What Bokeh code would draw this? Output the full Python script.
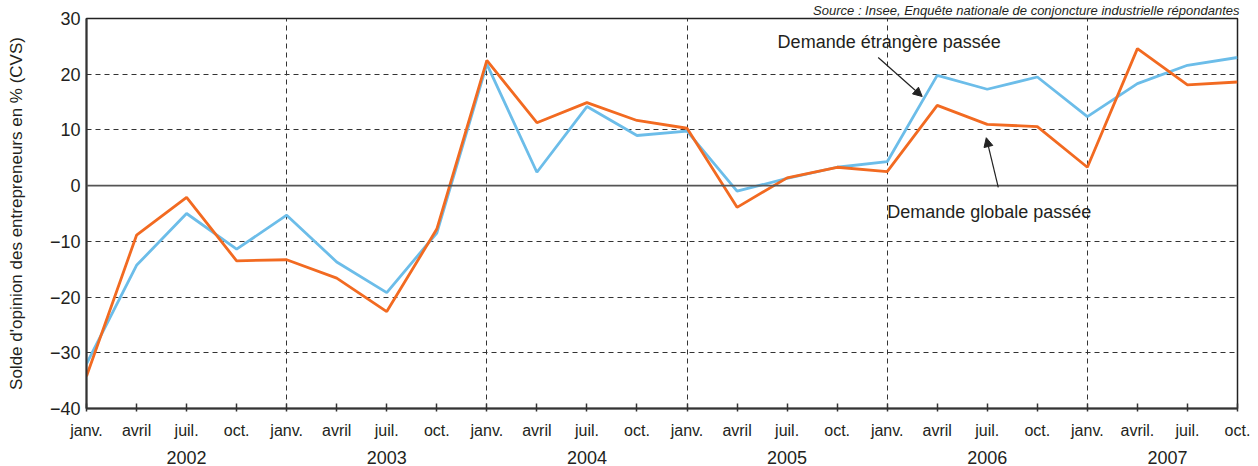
from bokeh.plotting import figure
from bokeh.models import (Range1d, FixedTicker, LinearAxis, Span, Label, Arrow,
                          NormalHead, ColumnDataSource, Grid, Title)
from bokeh.embed import file_html
from bokeh.resources import INLINE

# ---------------- data ----------------
quarter_labels = ["janv.", "avril", "juil.", "oct."] * 5 + ["janv.", "avril.", "juil.", "oct."]
years = ["2002", "2003", "2004", "2005", "2006", "2007"]
quarter_index = list(range(len(quarter_labels)))

demande_etrangere = [-32.0, -14.3, -5.0, -11.4, -5.3, -13.7, -19.2, -8.5,
                     21.8, 2.4, 14.2, 9.0, 9.8, -1.0, 1.3, 3.3,
                     4.3, 19.8, 17.3, 19.5, 12.4, 18.3, 21.6, 23.0]
demande_globale = [-34.2, -8.9, -2.1, -13.5, -13.3, -16.6, -22.6, -7.8,
                   22.5, 11.3, 14.9, 11.7, 10.3, -3.9, 1.4, 3.3,
                   2.5, 14.4, 11.0, 10.6, 3.3, 24.6, 18.1, 18.6]

y_ticks = [-40, -30, -20, -10, 0, 10, 20, 30]

FONT = "Liberation Sans"
TXT = "#231f20"
BLUE = "#6cbde9"
ORANGE = "#f26a21"

src = ColumnDataSource(dict(x=quarter_index, etr=demande_etrangere, glob=demande_globale))

p = figure(width=1258, height=466, output_backend="svg", toolbar_location=None,
           x_range=Range1d(0, len(quarter_labels) - 1), y_range=Range1d(-40, 30),
           min_border_left=86, min_border_right=21, min_border_top=18, min_border_bottom=56,
           x_axis_type=None, y_axis_type=None)
p.outline_line_color = "#222222"
p.outline_line_width = 1.5
p.background_fill_color = "white"
p.border_fill_color = "white"

# ---- source line (title) ----
p.title = Title(text="Source : Insee, Enquête nationale de conjoncture industrielle répondantes",
                align="right", text_font=FONT, text_font_style="italic",
                text_font_size="13px", text_color=TXT, standoff=1, offset=-2)

# ---- grids ----
p.add_layout(Grid(dimension=0,
                  ticker=FixedTicker(ticks=[i for i in quarter_index if quarter_labels[i] == "janv." and i > 0]),
                  grid_line_color="#333333", grid_line_dash="5 4", grid_line_width=1))
p.add_layout(Grid(dimension=1,
                  ticker=FixedTicker(ticks=[t for t in y_ticks if t not in (0, -40, 30)]),
                  grid_line_color="#333333", grid_line_dash="5 4", grid_line_width=1))
p.add_layout(Span(location=0, dimension="width", line_color="#555555", line_width=1.6))

# ---- axes ----
xaxis = LinearAxis(ticker=FixedTicker(ticks=quarter_index),
                   major_label_overrides={i: l for i, l in enumerate(quarter_labels)})
xaxis.axis_line_color = "#333333"
xaxis.axis_line_width = 2
xaxis.major_tick_line_color = "#333333"
xaxis.major_tick_line_width = 1.5
xaxis.major_tick_in = 5
xaxis.major_tick_out = 3
xaxis.minor_tick_line_color = None
xaxis.major_label_standoff = 10
xaxis.major_label_text_font = FONT
xaxis.major_label_text_font_size = "16px"
xaxis.major_label_text_color = TXT
p.add_layout(xaxis, "below")

year_pos = [2, 6, 10, 14, 18, 21.6]
yaxis_years = LinearAxis(ticker=FixedTicker(ticks=year_pos),
                         major_label_overrides={pos: y for pos, y in zip(year_pos, years)})
yaxis_years.axis_line_color = None
yaxis_years.major_tick_line_color = None
yaxis_years.minor_tick_line_color = None
yaxis_years.major_label_standoff = 3
yaxis_years.major_label_text_font = FONT
yaxis_years.major_label_text_font_size = "18px"
yaxis_years.major_label_text_color = TXT
p.add_layout(yaxis_years, "below")

yaxis = LinearAxis(ticker=FixedTicker(ticks=y_ticks),
                   axis_label="Solde d'opinion des entrepreneurs en % (CVS)")
yaxis.axis_line_color = "#333333"
yaxis.axis_line_width = 2
yaxis.major_tick_line_color = None
yaxis.minor_tick_line_color = None
yaxis.major_tick_in = 0
yaxis.major_tick_out = 0
yaxis.major_label_standoff = 6
yaxis.major_label_text_font = FONT
yaxis.major_label_text_font_size = "18px"
yaxis.major_label_text_color = TXT
yaxis.axis_label_text_font = FONT
yaxis.axis_label_text_font_size = "17px"
yaxis.axis_label_text_font_style = "normal"
yaxis.axis_label_text_color = TXT
yaxis.axis_label_standoff = 21
p.add_layout(yaxis, "left")

# ---- series ----
p.line("x", "etr", source=src, line_color=BLUE, line_width=2.8)
p.line("x", "glob", source=src, line_color=ORANGE, line_width=2.8)

# ---- annotations ----
p.add_layout(Label(x=16.04, y=25.7, text="Demande étrangère passée", text_align="center",
                   text_baseline="middle", text_font=FONT, text_font_size="18px", text_color=TXT))
p.add_layout(Arrow(end=NormalHead(size=9, fill_color="#222222", line_color="#222222"),
                   x_start=15.82, y_start=23.0, x_end=16.7, y_end=16.0,
                   line_color="#222222", line_width=1.2))

p.add_layout(Label(x=18.04, y=-4.8, text="Demande globale passée", text_align="center",
                   text_baseline="middle", text_font=FONT, text_font_size="18px", text_color=TXT))
p.add_layout(Arrow(end=NormalHead(size=9, fill_color="#222222", line_color="#222222"),
                   x_start=18.22, y_start=-0.3, x_end=17.98, y_end=8.6,
                   line_color="#222222", line_width=1.2))

open("out.html", "w").write(file_html(p, INLINE))
